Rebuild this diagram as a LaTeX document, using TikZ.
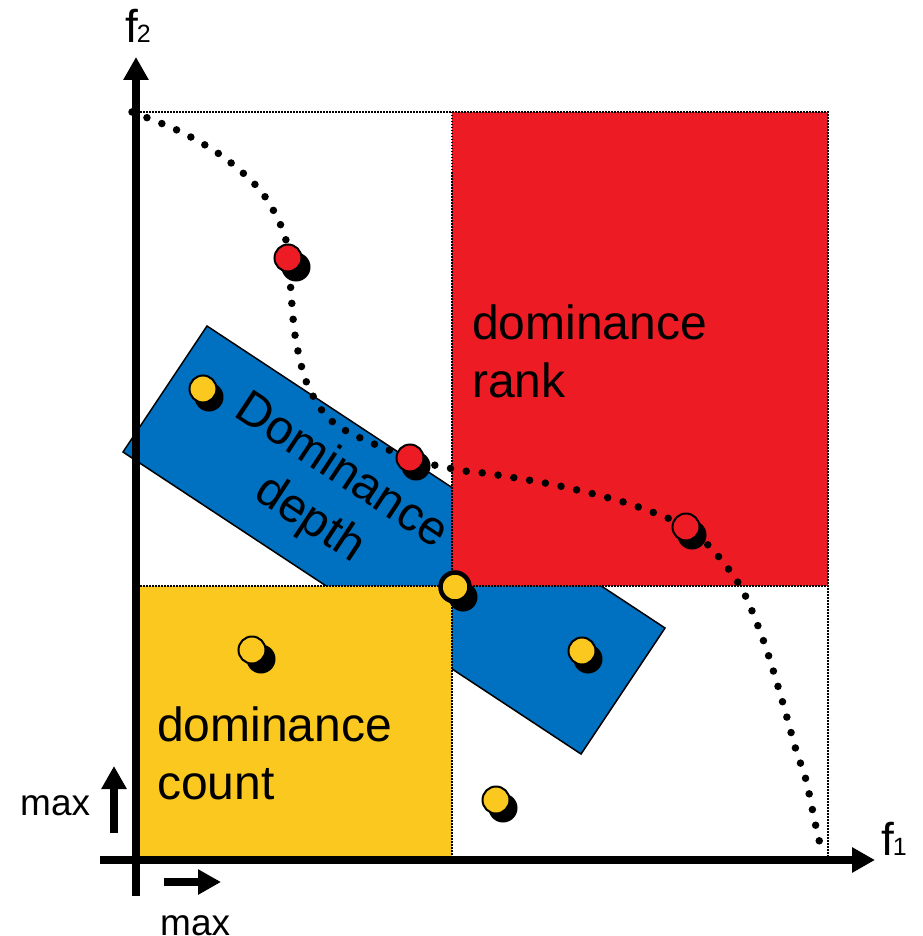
\documentclass[tikz,border=0pt]{standalone}
\usepackage{fontspec}
\setmainfont{Liberation Sans}
\usetikzlibrary{arrows.meta}
\definecolor{domred}{RGB}{237,28,36}
\definecolor{domblue}{RGB}{0,112,192}
\definecolor{domyellow}{RGB}{250,200,30}
\begin{document}
\begin{tikzpicture}[x=1pt,y=-1pt,
  bigtext/.style={font=\fontsize{48}{57.6}\selectfont, inner sep=0pt, align=left},
  midtext/.style={font=\fontsize{37}{40}\selectfont, inner sep=0pt},
  gridline/.style={line width=1.5pt, dash pattern=on 1.5pt off 1.5pt},
  axisarrow/.style={line width=8pt, -{Triangle[length=23pt,width=24pt]}},
  smallarrow/.style={line width=8pt, -{Triangle[length=23pt,width=24pt]}},
  shadowdot/.style={circle, fill=black, minimum size=29pt, inner sep=0pt},
  pointdot/.style={circle, draw=black, line width=2pt, minimum size=27pt, inner sep=0pt},
  frontier/.style={line width=7.5pt, line cap=round, dash pattern=on 0pt off 16pt}
]
\useasboundingbox (0,0) rectangle (922,936);

% blue rectangle (dominance depth)
\filldraw[fill=domblue, draw=black, line width=1.5pt]
  (207,326) -- (665,628) -- (581,754) -- (123,452) -- cycle;

% red and yellow regions
\fill[domred] (452,112) rectangle (828,586);
\fill[domyellow] (134,586) rectangle (452,860);

% dotted grid lines
\draw[gridline] (134,112) -- (828,112) -- (828,860);
\draw[gridline] (452,112) -- (452,860);
\draw[gridline] (134,586) -- (828,586);

% dotted frontier
\draw[frontier] plot[smooth, tension=0.55] coordinates {
  (132,112) (179,131) (222,156) (260,190) (282,228) (289,258) (291,293)
  (296,341) (309,388) (338,426) (410,458) (459,470) (491,474) (555,485)
  (620,501) (665,517) (686,527) (706,543) (727,567) (745,595) (765,645)
  (782,700) (796,750) (806,780) (816,827) (823,856)};

% axes
\coordinate (ybot) at (136,896);
\coordinate (ytop) at (136,57);
\coordinate (xleft) at (100,860);
\coordinate (xright) at (875,860);
\draw[axisarrow] (ybot) -- (ytop);
\draw[axisarrow] (xleft) -- (xright);

\node[anchor=base west, inner sep=0pt] (f2) at (125,43)
  {\fontsize{46}{46}\selectfont f\kern-1pt\fontsize{25}{25}\selectfont 2};
\node[anchor=base west, inner sep=0pt] (f1) at (881,855)
  {\fontsize{46}{46}\selectfont f\kern-1pt\fontsize{25}{25}\selectfont 1};

% max arrows
\coordinate (mupA) at (114,833);
\coordinate (mupB) at (114,766);
\coordinate (mrA) at (164,882);
\coordinate (mrB) at (221,882);
\draw[smallarrow] (mupA) -- (mupB);
\draw[smallarrow] (mrA) -- (mrB);
\node[midtext, anchor=base west] (maxleft) at (20,815) {max};
\node[midtext, anchor=base west] (maxbottom) at (160,935) {max};

% labels
\node[bigtext, anchor=north west] (rank) at (472,305) {dominance\\rank};
\node[bigtext, anchor=north west] (count) at (157,707) {dominance\\count};
\node[bigtext, align=center, rotate=-33.4] (depth) at (325,496) {Dominance\\depth};

% points: shadows
\node[shadowdot] (s1) at (296,267) {};
\node[shadowdot] (s2) at (416,466) {};
\node[shadowdot] (s3) at (692,535) {};
\node[shadowdot] (s4) at (463,597) {};
\node[shadowdot] (s5) at (209,397) {};
\node[shadowdot] (s6) at (588,659) {};
\node[shadowdot] (s7) at (261,659) {};
\node[shadowdot] (s8) at (503,808) {};

% points
\node[pointdot, fill=domred] (r1) at (288,258) {};
\node[pointdot, fill=domred] (r2) at (410,458) {};
\node[pointdot, fill=domred] (r3) at (686,527) {};
\node[pointdot, fill=domyellow, line width=4.5pt, minimum size=29pt] (y0) at (455,587) {};
\node[pointdot, fill=domyellow] (y1) at (203,389) {};
\node[pointdot, fill=domyellow] (y2) at (582,651) {};
\node[pointdot, fill=domyellow] (y3) at (252,650) {};
\node[pointdot, fill=domyellow] (y4) at (496,800) {};
\end{tikzpicture}
\end{document}
